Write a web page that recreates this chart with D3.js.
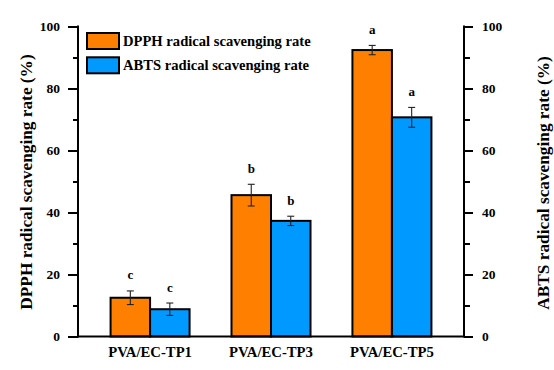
<!DOCTYPE html>
<html>
<head>
<meta charset="utf-8">
<script src="https://cdn.jsdelivr.net/npm/d3@7"></script>
<style>
  body { margin: 0; background: #fff; }
  svg text { font-family: "Liberation Serif", "Times New Roman", serif; font-weight: bold; fill: #000; }
</style>
</head>
<body>
<div id="chart"></div>
<script>
var categories = ["PVA/EC-TP1", "PVA/EC-TP3", "PVA/EC-TP5"];
var dpph = [12.5, 45.6, 92.4];
var dpphErr = [2.2, 3.5, 1.5];
var dpphSig = ["c", "b", "a"];
var abts = [8.8, 37.3, 70.7];
var abtsErr = [2.0, 1.5, 3.2];
var abtsSig = ["c", "b", "a"];
var yTicks = [0, 20, 40, 60, 80, 100];
var yMinor = [10, 30, 50, 70, 90];

var W = 554, H = 370;
var mLeft = 78, mRight = 464, mTop = 26.5, mBottom = 336.5;
var orange = "#ff7f00", blue = "#0099ff";

var svg = d3.select("#chart").append("svg")
    .attr("width", W)
    .attr("height", H);

var x = d3.scalePoint().domain(categories).range([mLeft, mRight]).padding(0.596);
var y = d3.scaleLinear().domain([0, 100]).range([mBottom, mTop]);
var barW = 39.5;

var series = [
    { key: "dpph", vals: dpph, err: dpphErr, sig: dpphSig, color: orange, off: -barW },
    { key: "abts", vals: abts, err: abtsErr, sig: abtsSig, color: blue, off: 0 }
];

// bars
series.forEach(function (s) {
    var g = svg.append("g").attr("class", "series " + s.key);
    g.selectAll("rect").data(categories).enter().append("rect")
        .attr("x", function (d) { return x(d) + s.off; })
        .attr("y", function (d, i) { return y(s.vals[i]); })
        .attr("width", barW)
        .attr("height", function (d, i) { return y(0) - y(s.vals[i]); })
        .attr("fill", s.color)
        .attr("stroke", "#000")
        .attr("stroke-width", 2);

    // error bars
    var eb = g.selectAll(".err").data(categories).enter().append("g").attr("class", "err")
        .attr("transform", function (d) { return "translate(" + (x(d) + s.off + barW / 2) + ",0)"; });
    eb.append("line")
        .attr("y1", function (d, i) { return y(s.vals[i] + s.err[i]); })
        .attr("y2", function (d, i) { return y(s.vals[i] - s.err[i]); });
    eb.append("line").attr("x1", -3.5).attr("x2", 3.5)
        .attr("y1", function (d, i) { return y(s.vals[i] + s.err[i]); })
        .attr("y2", function (d, i) { return y(s.vals[i] + s.err[i]); });
    eb.append("line").attr("x1", -3.5).attr("x2", 3.5)
        .attr("y1", function (d, i) { return y(s.vals[i] - s.err[i]); })
        .attr("y2", function (d, i) { return y(s.vals[i] - s.err[i]); });
    eb.selectAll("line").attr("stroke", "#222").attr("stroke-width", 1.1);

    // significance letters
    g.selectAll(".sig").data(categories).enter().append("text").attr("class", "sig")
        .attr("x", function (d) { return x(d) + s.off + barW / 2; })
        .attr("y", function (d, i) { return y(s.vals[i] + s.err[i]) - 11.5; })
        .attr("text-anchor", "middle")
        .style("font-size", "13px")
        .text(function (d, i) { return s.sig[i]; });
});

// axes
var yLeft = d3.axisLeft(y).tickValues(yTicks).tickSize(10).tickPadding(8);
var yRight = d3.axisRight(y).tickValues(yTicks).tickSize(9).tickPadding(9);

svg.append("g").attr("transform", "translate(" + mLeft + ",0)").call(yLeft);
svg.append("g").attr("transform", "translate(" + mRight + ",0)").call(yRight);
svg.append("g").attr("transform", "translate(" + mLeft + ",0)")
    .call(d3.axisLeft(y).tickValues(yMinor).tickSize(5).tickFormat(""));
svg.append("g").attr("transform", "translate(" + mRight + ",0)")
    .call(d3.axisRight(y).tickValues(yMinor).tickSize(6).tickFormat(""));

svg.selectAll(".domain").remove();
svg.selectAll(".tick line").attr("stroke", "#000").attr("stroke-width", 2);
svg.selectAll(".tick text")
    .attr("fill", "#000")
    .attr("font-family", "Liberation Serif")
    .attr("font-weight", "bold")
    .style("font-size", "13.5px");

// axis lines
svg.append("line").attr("x1", mLeft).attr("x2", mLeft).attr("y1", mTop - 1).attr("y2", mBottom + 1)
    .attr("stroke", "#000").attr("stroke-width", 2);
svg.append("line").attr("x1", mRight).attr("x2", mRight).attr("y1", mTop - 1).attr("y2", mBottom + 1)
    .attr("stroke", "#000").attr("stroke-width", 2);
svg.append("line").attr("x1", mLeft).attr("x2", mRight).attr("y1", mBottom).attr("y2", mBottom)
    .attr("stroke", "#000").attr("stroke-width", 2);

// category labels
svg.selectAll(".cat").data(categories).enter().append("text").attr("class", "cat")
    .attr("x", function (d) { return x(d); })
    .attr("y", mBottom + 20)
    .attr("text-anchor", "middle")
    .style("font-size", "14.7px")
    .text(function (d) { return d; });

// axis titles
svg.append("text")
    .attr("transform", "translate(32,182) rotate(-90)")
    .attr("text-anchor", "middle")
    .style("font-size", "17.3px")
    .text("DPPH radical scavenging rate (%)");
svg.append("text")
    .attr("transform", "translate(549,183) rotate(-90)")
    .attr("text-anchor", "middle")
    .style("font-size", "17.3px")
    .text("ABTS radical scavenging rate (%)");

// legend
var legend = svg.append("g").attr("transform", "translate(87,33)");
var legendItems = [
    { label: "DPPH radical scavenging rate", color: orange },
    { label: "ABTS radical scavenging rate", color: blue }
];
var li = legend.selectAll("g").data(legendItems).enter().append("g")
    .attr("transform", function (d, i) { return "translate(0," + (i * 24.3) + ")"; });
li.append("rect").attr("width", 32).attr("height", 16)
    .attr("fill", function (d) { return d.color; })
    .attr("stroke", "#000").attr("stroke-width", 2);
li.append("text").attr("x", 36).attr("y", 13)
    .style("font-size", "14.6px")
    .text(function (d) { return d.label; });
</script>
</body>
</html>
